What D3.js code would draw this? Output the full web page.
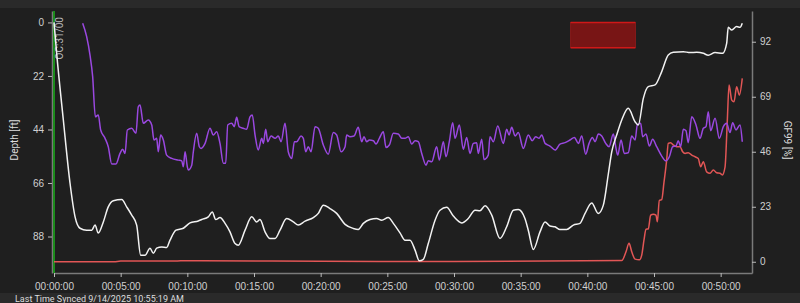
<!DOCTYPE html>
<html lang="en">
<head>
    <meta charset="UTF-8">
    <title>Dive profile</title>
    <script src="https://d3js.org/d3.v7.min.js"></script>
    <style>
        html, body { margin: 0; padding: 0; background: #1f1f1f; }
        svg { display: block; font-family: Roboto, "Noto Sans", sans-serif; }
    </style>
</head>
<body>
    <script>
        // depth profile (minutes, feet)
        let depthTime = [0, 0.2, 0.7, 1.2, 1.58, 1.95, 2.45, 2.83, 3.08, 3.32, 3.7, 4.07, 4.45, 5.08, 5.45, 5.83, 6.2, 6.5, 6.83, 7.2, 7.45, 7.7, 8.08, 8.45, 8.7, 9.15, 9.7, 10.2, 10.82, 11.08, 11.57, 11.87, 12.13, 12.45, 12.83, 13.2, 13.58, 13.82, 14.33, 14.83, 15.2, 15.45, 15.83, 16.2, 16.58, 16.95, 17.45, 17.95, 18.32, 18.83, 19.45, 19.82, 20.2, 20.7, 21.2, 21.83, 22.45, 22.82, 23.2, 23.7, 24.2, 24.58, 25.07, 25.45, 25.95, 26.33, 26.7, 27.08, 27.4, 27.7, 28.07, 28.58, 28.95, 29.45, 29.95, 30.58, 31.07, 31.58, 31.95, 32.33, 32.83, 33.45, 33.95, 34.45, 34.82, 35.32, 35.57, 35.95, 36.45, 36.83, 37.2, 37.57, 37.95, 38.45, 38.95, 39.45, 39.83, 40.33, 40.82, 41.2, 41.58, 41.83, 42.2, 42.58, 43.07, 43.58, 43.82, 44.2, 44.57, 45.08, 45.58, 46.07, 46.45, 47.2, 47.7, 48.2, 48.7, 49.07, 49.58, 50.15, 50.45, 50.57, 50.83, 51.2, 51.45, 51.62];
        let depthFt = [0, 12.7, 40.1, 66.0, 79.9, 84.6, 85.4, 85.4, 83.3, 86.6, 82.0, 75.8, 73.3, 72.8, 75.8, 79.2, 83.3, 95.7, 95.7, 92.8, 94.9, 92.8, 92.3, 92.5, 89.5, 85.4, 84.6, 82.4, 81.6, 81.0, 79.9, 77.9, 81.0, 80.2, 82.6, 86.1, 90.9, 91.6, 85.4, 79.9, 82.0, 81.0, 86.1, 88.8, 88.8, 85.4, 80.6, 82.0, 83.3, 81.7, 80.2, 78.5, 75.1, 76.5, 78.5, 83.0, 84.7, 85.1, 82.6, 81.0, 80.6, 81.3, 80.2, 82.6, 86.5, 89.5, 89.5, 93.6, 98.0, 97.4, 90.9, 81.3, 77.2, 76.0, 79.6, 82.4, 80.6, 77.2, 77.4, 75.4, 79.2, 88.8, 84.0, 77.2, 76.9, 80.6, 85.4, 93.3, 86.1, 82.0, 83.7, 84.0, 85.1, 85.1, 83.3, 82.6, 78.5, 74.2, 78.5, 75.1, 62.1, 53.2, 46.3, 40.1, 35.3, 40.8, 42.2, 31.2, 26.4, 25.7, 20.2, 13.4, 12.3, 12.0, 12.4, 12.3, 12.7, 13.5, 12.4, 12.7, 8.6, 2.0, 3.1, 1.7, 2.0, 0.3];

        // purple trace on the % axis
        let surfTime = [2.15, 2.45, 2.7, 2.9, 3.1, 3.32, 3.5, 3.83, 4.07, 4.33, 4.65, 4.95, 5.15, 5.33, 5.5, 5.83, 6.15, 6.32, 6.45, 6.7, 7.07, 7.33, 7.5, 7.7, 7.82, 8.0, 8.2, 8.45, 8.83, 9.32, 9.58, 9.7, 9.83, 10.0, 10.07, 10.33, 10.45, 10.7, 10.9, 11.03, 11.33, 11.7, 11.95, 12.2, 12.45, 12.7, 12.88, 13.03, 13.33, 13.52, 13.7, 13.88, 14.2, 14.45, 14.7, 14.87, 15.08, 15.32, 15.58, 15.7, 15.88, 16.03, 16.28, 16.58, 16.82, 17.03, 17.33, 17.57, 17.83, 18.03, 18.2, 18.53, 18.7, 18.88, 19.07, 19.28, 19.58, 19.82, 20.2, 20.57, 20.95, 21.2, 21.53, 21.83, 21.95, 22.2, 22.5, 22.82, 23.08, 23.25, 23.45, 23.65, 23.95, 24.15, 24.4, 24.7, 24.9, 25.15, 25.45, 25.82, 26.08, 26.33, 26.57, 26.83, 27.08, 27.32, 27.58, 27.9, 28.07, 28.33, 28.7, 28.9, 29.2, 29.4, 29.65, 29.9, 30.08, 30.4, 30.7, 30.95, 31.2, 31.45, 31.7, 31.82, 32.08, 32.25, 32.57, 32.7, 32.95, 33.28, 33.7, 33.95, 34.13, 34.33, 34.58, 34.82, 35.2, 35.57, 35.87, 36.13, 36.38, 36.58, 36.83, 37.2, 37.58, 37.95, 38.33, 38.7, 39.03, 39.33, 39.58, 39.88, 40.13, 40.38, 40.58, 40.83, 41.08, 41.38, 41.63, 41.95, 42.13, 42.28, 42.53, 42.77, 43.07, 43.33, 43.58, 43.75, 44.0, 44.15, 44.4, 44.65, 44.9, 45.2, 45.58, 45.9, 46.15, 46.4, 46.65, 46.82, 47.0, 47.2, 47.4, 47.57, 47.83, 48.15, 48.45, 48.7, 48.9, 49.07, 49.25, 49.58, 49.9, 50.2, 50.45, 50.7, 50.9, 51.15, 51.45, 51.62];
        let surfPct = [99.7, 94.1, 86.4, 77.4, 60.6, 61.4, 55.1, 51.6, 48.1, 40.9, 40.9, 45.3, 47.0, 45.3, 55.1, 55.8, 53.7, 64.8, 65.5, 57.9, 59.3, 57.2, 50.9, 51.6, 46.0, 53.0, 50.9, 44.6, 43.2, 42.5, 42.2, 39.7, 46.0, 39.7, 38.4, 40.4, 46.0, 53.7, 48.1, 47.4, 49.5, 55.8, 53.0, 54.4, 49.5, 41.2, 41.2, 57.2, 57.9, 56.5, 60.4, 56.5, 55.8, 55.4, 60.6, 61.4, 53.0, 46.7, 51.6, 49.5, 55.4, 50.2, 52.6, 51.6, 52.6, 50.2, 57.9, 46.0, 43.2, 50.2, 50.2, 52.6, 51.6, 46.0, 48.1, 46.0, 56.5, 55.8, 48.8, 45.0, 54.0, 53.0, 46.0, 48.1, 53.0, 52.3, 52.6, 56.2, 50.2, 52.3, 50.2, 50.9, 50.6, 49.2, 51.6, 54.4, 47.8, 48.8, 53.7, 53.4, 51.6, 51.6, 52.3, 49.2, 50.6, 50.2, 45.3, 40.4, 42.2, 41.8, 48.1, 42.5, 50.2, 43.9, 50.2, 58.1, 51.6, 57.2, 47.0, 52.0, 45.3, 49.5, 49.8, 45.3, 51.2, 42.8, 44.6, 52.3, 50.2, 56.8, 49.5, 55.4, 53.0, 56.2, 52.6, 54.0, 47.4, 53.0, 50.6, 52.3, 51.6, 53.0, 49.5, 48.4, 46.7, 49.2, 49.8, 50.9, 52.0, 49.5, 52.6, 45.0, 49.5, 52.0, 50.2, 53.4, 52.6, 49.5, 48.1, 53.4, 48.1, 44.6, 50.9, 45.3, 45.6, 52.6, 50.9, 57.2, 57.9, 52.3, 53.4, 48.4, 51.2, 48.1, 44.2, 42.2, 43.9, 48.1, 48.4, 50.6, 48.1, 55.4, 54.8, 49.8, 60.6, 57.2, 51.6, 55.8, 56.5, 62.7, 54.8, 60.0, 51.6, 56.5, 57.9, 54.0, 58.1, 55.1, 57.2, 50.2];

        // GF99 (%)
        let gfTime = [0, 4.5, 5.0, 6.0, 9.0, 9.5, 11.0, 20.0, 30.0, 42.58, 42.9, 43.13, 43.33, 43.58, 43.9, 44.08, 44.25, 44.4, 44.57, 44.75, 44.95, 45.15, 45.25, 45.4, 45.58, 45.75, 45.95, 46.07, 46.25, 46.45, 46.7, 46.95, 47.15, 47.33, 47.57, 47.83, 48.08, 48.32, 48.5, 48.7, 48.95, 49.2, 49.45, 49.7, 49.95, 50.12, 50.33, 50.5, 50.63, 50.83, 51.0, 51.2, 51.4, 51.62];
        let gf99 = [0, 0, 0.3, 0.3, 0.3, 0.4, 0.4, 0.2, 0.1, 0.5, 4.2, 7.7, 4.2, 1.1, 0.8, 2.8, 9.1, 13.6, 13.7, 19.5, 19.9, 19.5, 16.7, 25.6, 26.0, 33.3, 42.5, 49.5, 49.8, 48.8, 48.1, 48.1, 46.0, 45.3, 45.6, 44.6, 43.9, 43.2, 39.7, 41.8, 37.6, 37.0, 38.4, 37.2, 37.0, 36.3, 39.7, 59.3, 73.9, 67.6, 66.9, 73.2, 69.7, 76.7];

        let xTicks = [0, 5, 10, 15, 20, 25, 30, 35, 40, 45, 50];
        let depthTicks = [0, 22, 44, 66, 88];
        let gfTicks = [0, 23, 46, 69, 92];

        // marked zone (minutes, feet) and gas marker
        let zoneTime = [38.75, 43.6];
        let zoneDepth = [0, 10.4];
        let gasTime = 0;
        let gasLabel = 'OC:31/00';
        let syncText = 'Last Time Synced 9/14/2025 10:55:19 AM';

        let width = 800, height = 303;
        let svg = d3.select('body').append('svg')
                    .attr('width', width)
                    .attr('height', height);

        svg.append('rect').attr('width', width).attr('height', height).attr('fill', '#1f1f1f');
        svg.append('rect').attr('width', width).attr('height', 8).attr('fill', '#2a2a2a');
        svg.append('rect').attr('y', 293).attr('width', width).attr('height', 10).attr('fill', '#2a2a2a');

        let x = d3.scaleLinear().domain([0, 52.35]).range([54, 752]);
        let yDepth = d3.scaleLinear().domain([-4.7, 103]).range([11, 273]);
        let yGf = d3.scaleLinear().domain([-4.7, 104.85]).range([273, 11]);

        let fmt = m => '00:' + String(m).padStart(2, '0') + ':00';

        function styleAxis(g) {
            g.selectAll('.domain').attr('stroke', '#7a7a7a').attr('stroke-width', 1.5);
            g.selectAll('.tick line').attr('stroke', '#bbb');
            g.selectAll('.tick text').attr('fill', '#d0d0d0').style('font-size', '10px');
        }

        svg.append('g')
           .attr('transform', 'translate(0,273)')
           .call(d3.axisBottom(x).tickValues(xTicks).tickFormat(fmt).tickSize(4).tickSizeOuter(0).tickPadding(6))
           .call(styleAxis);

        svg.append('g')
           .attr('transform', 'translate(52,0)')
           .call(d3.axisLeft(yDepth).tickValues(depthTicks).tickSize(4).tickSizeOuter(0).tickPadding(4))
           .call(styleAxis);

        svg.append('g')
           .attr('transform', 'translate(752,0)')
           .call(d3.axisRight(yGf).tickValues(gfTicks).tickSize(4).tickSizeOuter(0).tickPadding(4))
           .call(styleAxis);

        svg.append('text')
           .attr('transform', 'translate(18,140) rotate(-90)')
           .attr('text-anchor', 'middle')
           .attr('fill', '#ddd').style('font-size', '10px')
           .text('Depth [ft]');
        svg.append('text')
           .attr('transform', 'translate(784,140) rotate(90)')
           .attr('text-anchor', 'middle')
           .attr('fill', '#ddd').style('font-size', '10px')
           .text('GF99 [%]');

        // zone box
        let zx0 = x(zoneTime[0]), zx1 = x(zoneTime[1]);
        let zy0 = yDepth(zoneDepth[0]), zy1 = yDepth(zoneDepth[1]);
        svg.append('rect')
           .attr('x', zx0).attr('y', zy0).attr('width', zx1 - zx0).attr('height', zy1 - zy0)
           .attr('fill', '#781515').attr('stroke', '#9a1a1a').attr('stroke-width', 0.8);
        [zy0, zy1].forEach(yy => {
            svg.append('line').attr('x1', zx0).attr('x2', zx1).attr('y1', yy).attr('y2', yy)
               .attr('stroke', '#d01818').attr('stroke-width', 1.5);
        });

        // gas switch marker
        svg.append('line')
           .attr('x1', x(gasTime)).attr('x2', x(gasTime))
           .attr('y1', 11).attr('y2', 273)
           .attr('stroke', '#1c8c1c').attr('stroke-width', 2);
        svg.append('text')
           .attr('transform', `translate(${x(gasTime) + 9},17) rotate(-90)`)
           .attr('text-anchor', 'end')
           .attr('fill', '#bbb').style('font-size', '10px')
           .text(gasLabel);

        let depthLine = d3.line().x(d => x(d[0])).y(d => yDepth(d[1])).curve(d3.curveMonotoneX);
        let gfLine = d3.line().x(d => x(d[0])).y(d => yGf(d[1])).curve(d3.curveMonotoneX);

        svg.append('path')
           .attr('d', gfLine(d3.zip(gfTime, gf99)))
           .attr('fill', 'none').attr('stroke', '#e25656').attr('stroke-width', 1.5);

        svg.append('path')
           .attr('d', gfLine(d3.zip(surfTime, surfPct)))
           .attr('fill', 'none').attr('stroke', '#9a48e0').attr('stroke-width', 1.5);

        svg.append('path')
           .attr('d', depthLine(d3.zip(depthTime, depthFt)))
           .attr('fill', 'none').attr('stroke', '#f2f2f2').attr('stroke-width', 1.5);

        svg.append('text')
           .attr('x', 15).attr('y', 301.5)
           .attr('fill', '#ddd').style('font-size', '9px')
           .text(syncText);
    </script>
</body>
</html>
